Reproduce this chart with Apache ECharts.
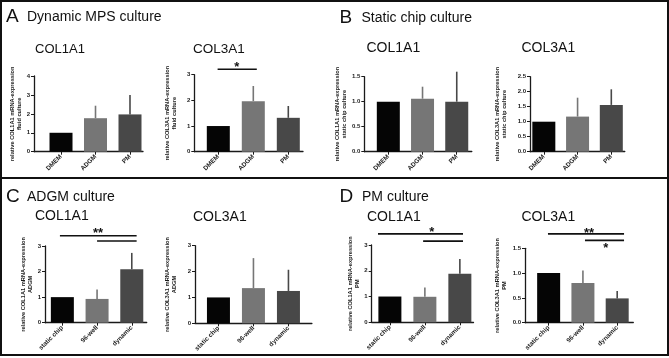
<!DOCTYPE html>
<html><head><meta charset="utf-8">
<script src="https://cdn.jsdelivr.net/npm/echarts@6/dist/echarts.min.js"></script>
<style>html,body{margin:0;padding:0;background:#fff}#c{width:669px;height:358px}</style>
</head><body><div id="c"></div>
<script>
// ---------- data ----------
const mediaCategories = ['DMEM', 'ADGM', 'PM'];
const setupCategories = ['static chip', '96-well', 'dynamic'];

const fluidCol1Mean = [1.0, 1.77, 1.97];
const fluidCol1Err  = [0, 0.66, 1.03];
const fluidCol3Mean = [1.0, 1.97, 1.32];
const fluidCol3Err  = [0, 0.59, 0.46];
const staticCol1Mean = [1.0, 1.06, 1.0];
const staticCol1Err  = [0, 0.24, 0.6];
const staticCol3Mean = [1.0, 1.17, 1.56];
const staticCol3Err  = [0, 0.63, 0.52];
const adgmCol1Mean = [1.0, 0.93, 2.09];
const adgmCol1Err  = [0, 0.37, 0.64];
const adgmCol3Mean = [1.0, 1.36, 1.25];
const adgmCol3Err  = [0, 1.16, 0.82];
const pmCol1Mean = [1.0, 0.99, 1.88];
const pmCol1Err  = [0, 0.36, 0.58];
const pmCol3Mean = [1.0, 0.80, 0.49];
const pmCol3Err  = [0, 0.25, 0.15];

// significance brackets: [from position, to position, level]
const fluidCol3Brackets = [[0.98, 2.1, 3.21]];
const fluidCol3StarPos = [[1.53, 3.38]];
const fluidCol3StarText = ['*'];
const adgmCol1Brackets = [[0.93, 3.14, 3.40], [2.0, 3.14, 3.195]];
const adgmCol1StarPos = [[2.03, 3.59]];
const adgmCol1StarText = ['**'];
const pmCol1Brackets = [[0.66, 3.09, 3.43], [1.95, 3.09, 3.15]];
const pmCol1StarPos = [[2.2, 3.58]];
const pmCol1StarText = ['*'];
const pmCol3Brackets = [[0.98, 3.2, 1.79], [2.06, 3.2, 1.66]];
const pmCol3StarPos = [[2.18, 1.855], [2.67, 1.546]];
const pmCol3StarText = ['**', '*'];

// ---------- styles / layout ----------
const FONT = 'Liberation Sans, Arial, Helvetica, sans-serif';
const barColors = ['#050505', '#767676', '#484848'];
const INK = '#1a1a1a';

const panels = [
  {cats: mediaCategories, mean: fluidCol1Mean, err: fluidCol1Err, name: 'relative COL1A1 mRNA-expression\nfluid culture',
   left: 34, top: 76, width: 109, height: 75.7, xmin: 0.217, xmax: 3.377, ymax: 4, yint: 1, dec: 0, nameGap: 8},
  {cats: mediaCategories, mean: fluidCol3Mean, err: fluidCol3Err, name: 'relative COL3A1 mRNA-expression\nfluid culture',
   left: 194.3, top: 74.7, width: 108.7, height: 77, xmin: 0.314, xmax: 3.42, ymax: 3, yint: 1, dec: 0, nameGap: 16,
   brackets: fluidCol3Brackets, starPos: fluidCol3StarPos, starText: fluidCol3StarText},
  {cats: mediaCategories, mean: staticCol1Mean, err: staticCol1Err, name: 'relative COL1A1 mRNA-expression\nstatic chip culture',
   left: 364.3, top: 76.7, width: 107.5, height: 75, xmin: 0.298, xmax: 3.44, ymax: 1.5, yint: 0.5, dec: 1, nameGap: 14},
  {cats: mediaCategories, mean: staticCol3Mean, err: staticCol3Err, name: 'relative COL3A1 mRNA-expression\nstatic chip culture',
   left: 530, top: 76.7, width: 94.8, height: 75, xmin: 0.59, xmax: 3.4, ymax: 2.5, yint: 0.5, dec: 1, nameGap: 22},
  {cats: setupCategories, mean: adgmCol1Mean, err: adgmCol1Err, name: 'relative COL1A1 mRNA-expression\nADGM',
   left: 45, top: 246, width: 101.7, height: 76.7, xmin: 0.5, xmax: 3.43, ymax: 3, yint: 1, dec: 0, nameGap: 5,
   brackets: adgmCol1Brackets, starPos: adgmCol1StarPos, starText: adgmCol1StarText},
  {cats: setupCategories, mean: adgmCol3Mean, err: adgmCol3Err, name: 'relative COL3A1 mRNA-expression\nADGM',
   left: 195, top: 245.7, width: 116.9, height: 77.6, xmin: 0.33, xmax: 3.67, ymax: 3, yint: 1, dec: 0, nameGap: 17},
  {cats: setupCategories, mean: pmCol1Mean, err: pmCol1Err, name: 'relative COL1A1 mRNA-expression\nPM',
   left: 371.7, top: 245, width: 101.8, height: 77.3, xmin: 0.48, xmax: 3.39, ymax: 3, yint: 1, dec: 0, nameGap: 11,
   brackets: pmCol1Brackets, starPos: pmCol1StarPos, starText: pmCol1StarText},
  {cats: setupCategories, mean: pmCol3Mean, err: pmCol3Err, name: 'relative COL3A1 mRNA-expression\nPM',
   left: 525, top: 248.3, width: 108.3, height: 74.4, xmin: 0.31, xmax: 3.47, ymax: 1.5, yint: 0.5, dec: 1, nameGap: 17,
   brackets: pmCol3Brackets, starPos: pmCol3StarPos, starText: pmCol3StarText}
];

const headings = [
  {text: 'A', x: 6, y: 16.8, size: 19},
  {text: 'Dynamic MPS culture', x: 27, y: 17.5, size: 14},
  {text: 'B', x: 339.5, y: 17.8, size: 19},
  {text: 'Static chip culture', x: 361.5, y: 17.8, size: 14},
  {text: 'C', x: 6, y: 197, size: 19},
  {text: 'ADGM culture', x: 27, y: 197.3, size: 14},
  {text: 'D', x: 339.5, y: 197, size: 19},
  {text: 'PM culture', x: 362, y: 197.3, size: 14},
  {text: 'COL1A1', x: 35, y: 49.5, size: 13},
  {text: 'COL3A1', x: 193, y: 49.5, size: 13.5},
  {text: 'COL1A1', x: 366.5, y: 48.5, size: 14},
  {text: 'COL3A1', x: 521.5, y: 48.5, size: 14},
  {text: 'COL1A1', x: 35, y: 216.5, size: 14},
  {text: 'COL3A1', x: 193, y: 217, size: 14},
  {text: 'COL1A1', x: 367, y: 217, size: 14},
  {text: 'COL3A1', x: 521.5, y: 217, size: 14}
];

// ---------- build option ----------
const grids = [], xAxes = [], yAxes = [], series = [];
const positions = [1, 2, 3];

panels.forEach((p, i) => {
  grids.push({left: p.left, top: p.top, width: p.width, height: p.height, containLabel: false, outerBoundsMode: 'none'});
  xAxes.push({
    type: 'value', gridIndex: i, min: p.xmin, max: p.xmax,
    splitLine: {show: false},
    axisLine: {show: true, onZero: false, lineStyle: {color: INK, width: 1.3}},
    axisTick: {show: true, customValues: positions, length: 3, lineStyle: {color: INK, width: 1}},
    axisLabel: {
      customValues: positions, rotate: 45, margin: 4,
      fontSize: 6.4, fontWeight: 'bold', fontFamily: FONT, color: INK,
      formatter: v => p.cats[Math.round(v) - 1]
    }
  });
  yAxes.push({
    type: 'value', gridIndex: i, min: 0, max: p.ymax, interval: p.yint,
    splitLine: {show: false},
    axisLine: {show: true, lineStyle: {color: INK, width: 1.3}},
    axisTick: {show: true, length: 3, lineStyle: {color: INK, width: 1}},
    axisLabel: {margin: 4, fontSize: 6, fontWeight: 'bold', fontFamily: FONT, color: INK,
      formatter: v => v.toFixed(p.dec)},
    name: p.name, nameLocation: 'middle', nameGap: p.nameGap,
    nameTextStyle: {fontSize: 5.7, fontWeight: 'bold', fontFamily: FONT, color: INK, lineHeight: 7}
  });
  series.push({
    type: 'bar', xAxisIndex: i, yAxisIndex: i, barWidth: 23,
    data: p.mean.map((v, k) => ({value: [positions[k], v], itemStyle: {color: barColors[k]}})),
    silent: true
  });
  series.push({
    type: 'custom', xAxisIndex: i, yAxisIndex: i, silent: true, z: 1,
    data: p.mean.map((v, k) => [positions[k], v, p.err[k]]),
    renderItem: (params, api) => {
      const e = api.value(2);
      if (!e) return null;
      const x = api.value(0), m = api.value(1);
      const a = api.coord([x, m]), b = api.coord([x, m + e]);
      return {type: 'group', children: [
        {type: 'line', shape: {x1: a[0], y1: a[1], x2: b[0], y2: b[1]},
         style: {stroke: barColors[params.dataIndex], lineWidth: 1.6}}
      ]};
    }
  });
  if (p.brackets) {
    series.push({
      type: 'custom', xAxisIndex: i, yAxisIndex: i, silent: true, clip: false,
      data: p.brackets,
      renderItem: (params, api) => {
        const a = api.coord([api.value(0), api.value(2)]);
        const b = api.coord([api.value(1), api.value(2)]);
        return {type: 'line', shape: {x1: a[0], y1: a[1], x2: b[0], y2: b[1]},
          style: {stroke: '#111', lineWidth: 1.6}};
      }
    });
    series.push({
      type: 'custom', xAxisIndex: i, yAxisIndex: i, silent: true, clip: false,
      data: p.starPos,
      renderItem: (params, api) => {
        const c = api.coord([api.value(0), api.value(1)]);
        return {type: 'text', x: c[0], y: c[1] + 2.8,
          style: {text: p.starText[params.dataIndex], fontSize: 13, fontWeight: 'bold',
            fontFamily: FONT, fill: '#111', align: 'center', verticalAlign: 'middle'}};
      }
    });
  }
});

const graphics = [
  {type: 'rect', shape: {x: 1, y: 1, width: 667, height: 354}, style: {fill: 'none', stroke: '#111', lineWidth: 2}, silent: true},
  {type: 'line', shape: {x1: 0, y1: 178, x2: 669, y2: 178}, style: {stroke: '#111', lineWidth: 2}, silent: true}
];
headings.forEach(h => graphics.push({
  type: 'text', x: h.x, y: h.y, silent: true,
  style: {text: h.text, fontSize: h.size, fontFamily: FONT, fill: '#111', verticalAlign: 'middle', align: 'left'}
}));

const chart = echarts.init(document.getElementById('c'), null, {renderer: 'canvas'});
chart.setOption({
  animation: false,
  backgroundColor: '#fff',
  grid: grids, xAxis: xAxes, yAxis: yAxes, series: series,
  graphic: graphics
});
</script>
</body></html>
